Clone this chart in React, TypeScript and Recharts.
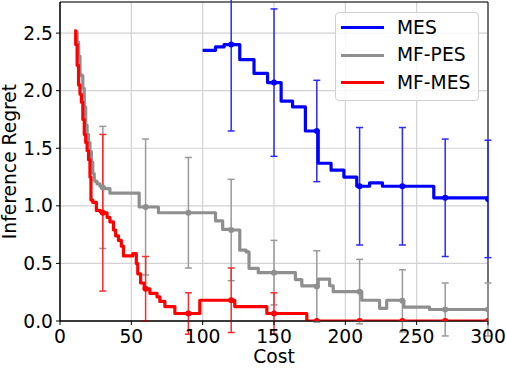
import {
  LineChart,
  Line,
  XAxis,
  YAxis,
  CartesianGrid,
  ErrorBar,
  ReferenceArea,
  Legend,
  Label
} from 'recharts';

const FONT = '"DejaVu Sans", sans-serif';
const FONT_SIZE = 18.7;

// axis ticks
const xTicks = [0, 50, 100, 150, 200, 250, 300];
const yTicks = [0, 0.5, 1.0, 1.5, 2.0, 2.5];

// costs where the error bars (and markers) sit
const errCosts = [30, 60, 90, 120, 150, 180, 210, 240, 270, 300];
const mesErr = [null, null, null, 0.75, 0.64, 0.44, 0.51, 0.51, 0.51, 0.51];
const pesErr = [0.53, 0.59, 0.48, 0.44, 0.28, 0.31, 0.28, 0.27, 0.23, 0.23];
const mfmesErr = [0.68, 0.28, 0.18, 0.28, 0.18, 0, 0, 0, 0, 0];

// MES (step curve)
const mesCost = [100, 109, 115, 120, 126, 136, 145.5, 150, 155, 163, 172, 180, 181, 190, 199, 208, 210, 217, 226, 240, 262, 270, 300];
const mesRegret = [2.35, 2.38, 2.4, 2.4, 2.27, 2.15, 2.07, 2.07, 1.91, 1.86, 1.65, 1.65, 1.37, 1.31, 1.25, 1.17, 1.17, 1.2, 1.17, 1.17, 1.07, 1.07, 1.06];

// MF-PES
const pesCost = [11, 12, 13, 14, 15, 16, 17, 18, 19, 20, 21, 22, 23, 24, 25, 26, 28, 30, 31, 35, 55.5, 60, 69, 90, 109, 114, 120, 126, 130.5, 132.5, 139, 150, 165, 169.5, 180, 181, 189, 191.5, 210, 211.5, 224, 229, 240, 241, 259, 270, 300];
const pesRegret = [2.51, 2.42, 2.3, 2.14, 2.13, 2.02, 1.86, 1.7, 1.62, 1.55, 1.47, 1.38, 1.28, 1.22, 1.21, 1.19, 1.17, 1.16, 1.15, 1.11, 0.99, 0.99, 0.94, 0.94, 0.87, 0.795, 0.79, 0.615, 0.6, 0.457, 0.42, 0.42, 0.36, 0.305, 0.3, 0.364, 0.306, 0.255, 0.255, 0.18, 0.11, 0.18, 0.175, 0.12, 0.1, 0.1, 0.1];

// MF-MES
const mfmesCost = [10, 11, 12, 13, 14, 15, 16, 17, 18, 19, 20, 21, 21.7, 23, 25.5, 28, 30, 33, 35, 37.5, 39, 41, 43, 44.5, 51, 53.5, 54.5, 56.5, 59, 60, 63, 68, 70, 73.5, 80.5, 90, 98, 120, 122.5, 145, 150, 173, 180, 210, 240, 270, 300];
const mfmesRegret = [2.52, 2.4, 2.22, 2.05, 1.97, 1.9, 1.75, 1.62, 1.55, 1.48, 1.4, 1.25, 1.05, 1.03, 0.96, 0.95, 0.94, 0.9, 0.86, 0.79, 0.74, 0.7, 0.65, 0.565, 0.585, 0.5, 0.41, 0.33, 0.28, 0.28, 0.24, 0.21, 0.17, 0.125, 0.065, 0.065, 0.18, 0.18, 0.125, 0.065, 0.065, 0, 0, 0, 0, 0, 0];

const buildSeries = (costs: number[], values: number[], errs: (number | null)[]) =>
  costs.map((x, i) => {
    const k = errCosts.indexOf(x);
    const err = k >= 0 && errs[k] !== null ? errs[k] : undefined;
    return { x, y: values[i], err };
  });

const mesData = buildSeries(mesCost, mesRegret, mesErr);
const pesData = buildSeries(pesCost, pesRegret, pesErr);
const mfmesData = buildSeries(mfmesCost, mfmesRegret, mfmesErr);

const series = [
  { name: 'MES', color: '#0000ff', barColor: '#2a2aff', data: mesData },
  { name: 'MF-PES', color: '#8f8f8f', barColor: '#9a9a9a', data: pesData },
  { name: 'MF-MES', color: '#ff0000', barColor: '#ff2a2a', data: mfmesData }
];

const makeDot = (color: string) => (props: any) => {
  const { cx, cy, payload, index } = props;
  if (payload.err === undefined) return <g key={`d-${index}`} />;
  return <circle key={`d-${index}`} cx={cx} cy={cy} r={3} fill={color} stroke="none" />;
};

// legend drawn like the matplotlib box
const LegendBox = () => (
  <div
    style={{
      position: 'relative',
      width: 144,
      height: 89,
      boxSizing: 'border-box',
      border: '1px solid #d0d0d0',
      borderRadius: 4,
      background: 'rgba(255,255,255,0.8)',
      fontFamily: FONT,
      fontSize: FONT_SIZE
    }}
  >
    {series.map((s, i) => (
      <div key={s.name}>
        <div
          style={{
            position: 'absolute',
            left: 5,
            top: 13.2 + i * 27.5,
            width: 43,
            height: 3,
            background: s.color
          }}
        />
        <div
          style={{
            position: 'absolute',
            left: 61,
            top: 3.5 + i * 27.5,
            lineHeight: '22px',
            color: '#000',
            whiteSpace: 'nowrap'
          }}
        >
          {s.name}
        </div>
      </div>
    ))}
  </div>
);

const tickStyle = { fontSize: FONT_SIZE, fontFamily: FONT, fill: '#000' };

export default function App() {
  return (
    <div style={{ position: 'absolute', left: 0, top: 0, width: 506, height: 368, background: '#fff' }}>
      <LineChart width={506} height={368} margin={{ top: 2, right: 18, bottom: 0, left: 0 }}>
        <CartesianGrid stroke="#d2d2d2" strokeWidth={1.2} />
        <XAxis
          type="number"
          dataKey="x"
          domain={[0, 300]}
          ticks={xTicks}
          allowDataOverflow
          height={47}
          tick={tickStyle}
          tickSize={4}
          tickMargin={5}
          tickLine={{ stroke: '#000' }}
          axisLine={{ stroke: '#000' }}
        >
          <Label value="Cost" position="insideBottom" offset={5} style={tickStyle} />
        </XAxis>
        <YAxis
          type="number"
          domain={[0, 2.77]}
          ticks={yTicks}
          allowDataOverflow
          width={60}
          tick={tickStyle}
          tickFormatter={(v: number) => v.toFixed(1)}
          tickSize={4}
          tickMargin={3}
          tickLine={{ stroke: '#000' }}
          axisLine={{ stroke: '#000' }}
        >
          <Label
            content={() => (
              <text
                x={16}
                y={161.5}
                transform="rotate(-90 16 161.5)"
                textAnchor="middle"
                style={tickStyle}
              >
                Inference Regret
              </text>
            )}
          />
        </YAxis>
        {series.map((s) => (
          <Line
            key={s.name}
            name={s.name}
            data={s.data}
            dataKey="y"
            type="stepAfter"
            stroke={s.color}
            strokeWidth={3.2}
            strokeLinejoin="round"
            dot={makeDot(s.color)}
            activeDot={false}
            isAnimationActive={false}
          >
            <ErrorBar dataKey="err" direction="y" width={3.5} stroke={s.barColor} strokeWidth={1.5} />
          </Line>
        ))}
        <ReferenceArea x1={0} x2={300} y1={0} y2={2.77} fill="none" stroke="#000" strokeWidth={1} />
        <Legend
          layout="vertical"
          align="center"
          verticalAlign="middle"
          wrapperStyle={{ left: 335, top: 12, width: 144, height: 89 }}
          content={() => <LegendBox />}
        />
      </LineChart>
    </div>
  );
}
